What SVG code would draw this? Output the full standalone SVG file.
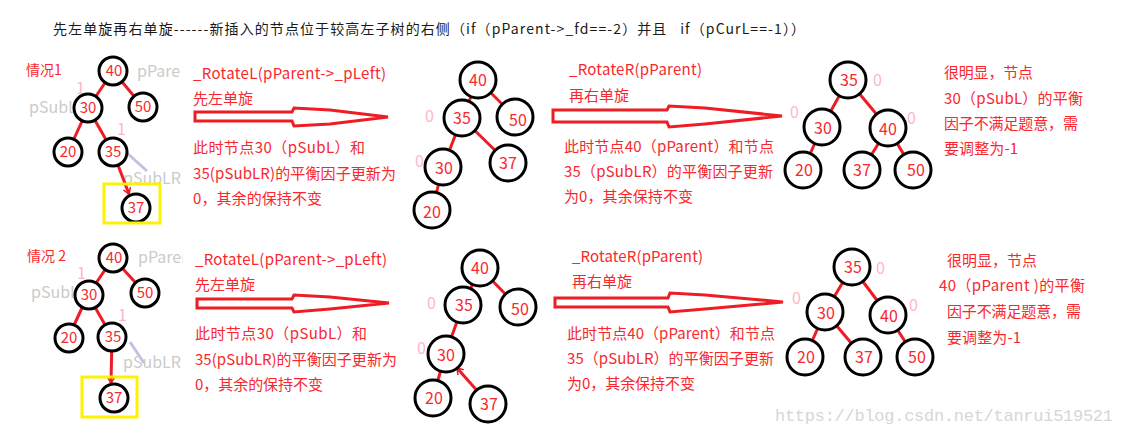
<svg xmlns="http://www.w3.org/2000/svg" width="1126" height="435" viewBox="0 0 1126 435">
<style>
text{font-family:"Noto Sans CJK SC","Liberation Sans",sans-serif}
.title{font-size:14px;fill:#1a1a1a;white-space:pre}
.red{font-size:15px;fill:#f8282e}
.lbl{font-size:14px;fill:#f8282e}
.gray{font-size:16px;fill:#cbcbcb}
.pink{font-size:16px;fill:#ffb6c6}
.n1{font-size:15px;fill:#f8282e;text-anchor:middle}
.n2{font-size:16px;fill:#f8282e;text-anchor:middle}
.c1{fill:#fff;stroke:#000;stroke-width:3}
.e{stroke:#ee1c25;stroke-width:3;fill:none}
.lav{stroke:#c4c0e4;stroke-width:3;fill:none}
.arr{fill:#fff;stroke:#ee1c25;stroke-width:3;stroke-linejoin:miter}
.box{fill:none;stroke:#fff200;stroke-width:3}
.wm{font-family:"Liberation Mono",monospace;font-size:17px;fill:#d6d6d6}
</style>
<defs>
<marker id="ah" markerWidth="8" markerHeight="8" refX="6" refY="4" orient="auto" markerUnits="userSpaceOnUse">
<path d="M0,0 L6,4 L0,8" fill="none" stroke="#ee1c25" stroke-width="1.5"/>
</marker>
<clipPath id="clipP1"><rect x="130" y="55" width="51" height="30"/></clipPath>
<clipPath id="clipP2"><rect x="130" y="242" width="53" height="30"/></clipPath>
</defs>
<rect width="1126" height="435" fill="#fff"/>

<text class="title" x="53" y="34" textLength="752" xml:space="preserve">先左单旋再右单旋------新插入的节点位于较高左子树的右侧（if（pParent-&gt;_fd==-2）并且   if（pCurL==-1））</text>

<!-- Case 1 annotations -->
<text class="lbl" x="26" y="75">情况1</text>
<text class="gray" x="137" y="77" clip-path="url(#clipP1)">pParent</text>
<text class="gray" x="29" y="113">pSubL</text>
<text class="gray" x="123" y="184">pSubLR</text>
<text class="pink" x="76" y="94">1</text>
<text class="pink" x="117" y="135">1</text>

<g id="connectors">
<!-- case1 tree1 -->
<line class="lav" x1="127" y1="153" x2="147" y2="171"/>
<line class="e" x1="113" y1="71" x2="88" y2="108"/>
<line class="e" x1="113" y1="71" x2="143" y2="107"/>
<line class="e" x1="88" y1="108" x2="68" y2="152"/>
<line class="e" x1="88" y1="108" x2="113" y2="152"/>
<line class="e" x1="113" y1="152" x2="129" y2="194" marker-end="url(#ah)"/>
<!-- case1 tree2 -->
<line class="e" x1="478" y1="80" x2="462" y2="118"/>
<line class="e" x1="478" y1="80" x2="515" y2="117"/>
<line class="e" x1="462" y1="118" x2="443" y2="167"/>
<line class="e" x1="462" y1="118" x2="508" y2="163"/>
<line class="e" x1="443" y1="167" x2="432" y2="210"/>
<!-- case1 tree3 -->
<line class="e" x1="848" y1="80" x2="822" y2="127"/>
<line class="e" x1="848" y1="80" x2="888" y2="128"/>
<line class="e" x1="822" y1="127" x2="803" y2="170"/>
<line class="e" x1="888" y1="128" x2="862" y2="170"/>
<line class="e" x1="888" y1="128" x2="913" y2="170"/>
<!-- case2 tree1 -->
<line class="lav" x1="130" y1="342" x2="144" y2="363"/>
<line class="e" x1="113" y1="258" x2="88" y2="295"/>
<line class="e" x1="113" y1="258" x2="145" y2="293"/>
<line class="e" x1="88" y1="295" x2="68" y2="338"/>
<line class="e" x1="88" y1="295" x2="112" y2="337"/>
<line class="e" x1="112" y1="337" x2="111" y2="383" marker-end="url(#ah)"/>
<!-- case2 tree2 -->
<line class="e" x1="480" y1="268" x2="463" y2="305"/>
<line class="e" x1="480" y1="268" x2="518" y2="307"/>
<line class="e" x1="463" y1="305" x2="445" y2="355"/>
<line class="e" x1="445" y1="355" x2="433" y2="398"/>
<line class="e" x1="488" y1="403" x2="457" y2="368" marker-end="url(#ah)"/>
<!-- case2 tree3 -->
<line class="e" x1="852" y1="267" x2="825" y2="312"/>
<line class="e" x1="852" y1="267" x2="888" y2="315"/>
<line class="e" x1="825" y1="312" x2="805" y2="357"/>
<line class="e" x1="825" y1="312" x2="863" y2="357"/>
<line class="e" x1="888" y1="315" x2="915" y2="357"/>
<!-- big hollow arrows -->
<polygon class="arr" points="195,112 292,112 294,108 330,110 388,117 330,124 294,126 292,121 195,121"/>
<polygon class="arr" points="553,110 667,110 669,106 705,108 782,116 705,124 669,127 667,122 553,122"/>
<polygon class="arr" points="197,299 292,299 294,295 330,297 389,303 330,309 294,312 292,308 197,308"/>
<polygon class="arr" points="555,298 668,298 670,293 705,295 783,302 705,309 670,312 668,307 555,307"/>
</g>

<!-- Case 1 tree 1 nodes -->
<g id="c1t1-40"><circle class="c1" cx="113" cy="71" r="14"/><text class="n1" x="114" y="76">40</text></g>
<g id="c1t1-30"><circle class="c1" cx="88" cy="108" r="14"/><text class="n1" x="88" y="113">30</text></g>
<g id="c1t1-50"><circle class="c1" cx="143" cy="107" r="14"/><text class="n1" x="143" y="112">50</text></g>
<g id="c1t1-20"><circle class="c1" cx="68" cy="152" r="14"/><text class="n1" x="68" y="157">20</text></g>
<g id="c1t1-35"><circle class="c1" cx="113" cy="152" r="14"/><text class="n1" x="113" y="157">35</text></g>
<g id="c1t1-37"><circle class="c1" cx="136" cy="208" r="14"/><text class="n1" x="136" y="213">37</text></g>
<rect id="c1-box" class="box" x="104" y="184" width="56" height="39"/>

<!-- Case 1 texts -->
<text class="red" x="193" y="79" textLength="193">_RotateL(pParent-&gt;_pLeft)</text>
<text class="red" x="193" y="104">先左单旋</text>
<text class="red" x="193" y="153" textLength="172">此时节点30（pSubL）和</text>
<text class="red" x="193" y="179" textLength="203">35(pSubLR)的平衡因子更新为</text>
<text class="red" x="193" y="204" textLength="129">0，其余的保持不变</text>

<!-- Case 1 tree 2 -->
<text class="pink" x="425" y="122">0</text>
<text class="pink" x="415" y="167">0</text>
<g id="c1t2-40"><circle class="c1" cx="478" cy="80" r="18"/><text class="n2" x="478" y="86">40</text></g>
<g id="c1t2-35"><circle class="c1" cx="462" cy="118" r="18"/><text class="n2" x="462" y="124">35</text></g>
<g id="c1t2-50"><circle class="c1" cx="515" cy="117" r="18"/><text class="n2" x="518" y="126">50</text></g>
<g id="c1t2-30"><circle class="c1" cx="443" cy="167" r="18"/><text class="n2" x="444" y="174">30</text></g>
<g id="c1t2-37"><circle class="c1" cx="508" cy="163" r="18"/><text class="n2" x="508" y="169">37</text></g>
<g id="c1t2-20"><circle class="c1" cx="432" cy="210" r="18"/><text class="n2" x="432" y="218">20</text></g>

<text class="red" x="569" y="75" textLength="133">_RotateR(pParent)</text>
<text class="red" x="569" y="101">再右单旋</text>
<text class="red" x="564" y="152" textLength="210">此时节点40（pParent）和节点</text>
<text class="red" x="564" y="177" textLength="209">35（pSubLR）的平衡因子更新</text>
<text class="red" x="564" y="202" textLength="129">为0，其余保持不变</text>

<!-- Case 1 tree 3 -->
<text class="pink" x="873" y="86">0</text>
<text class="pink" x="790" y="118">0</text>
<text class="pink" x="907" y="124">0</text>
<g id="c1t3-35"><circle class="c1" cx="848" cy="80" r="18"/><text class="n2" x="849" y="86">35</text></g>
<g id="c1t3-30"><circle class="c1" cx="822" cy="127" r="18"/><text class="n2" x="823" y="134">30</text></g>
<g id="c1t3-40"><circle class="c1" cx="888" cy="128" r="18"/><text class="n2" x="888" y="135">40</text></g>
<g id="c1t3-20"><circle class="c1" cx="803" cy="170" r="18"/><text class="n2" x="804" y="176">20</text></g>
<g id="c1t3-37"><circle class="c1" cx="862" cy="170" r="18"/><text class="n2" x="862" y="176">37</text></g>
<g id="c1t3-50"><circle class="c1" cx="913" cy="170" r="18"/><text class="n2" x="916" y="176">50</text></g>

<text class="red" x="944" y="78" textLength="89">很明显，节点</text>
<text class="red" x="944" y="104" textLength="139">30（pSubL）的平衡</text>
<text class="red" x="944" y="129" textLength="134">因子不满足题意，需</text>
<text class="red" x="944" y="154" textLength="74">要调整为-1</text>

<!-- Case 2 annotations -->
<text class="lbl" x="27" y="261">情况 2</text>
<text class="gray" x="138" y="263" clip-path="url(#clipP2)">pParent</text>
<text class="gray" x="31" y="298">pSubL</text>
<text class="gray" x="123" y="368">pSubLR</text>
<text class="pink" x="77" y="279">1</text>
<text class="pink" x="118" y="321">1</text>

<g id="c2t1-40"><circle class="c1" cx="113" cy="258" r="14"/><text class="n1" x="114" y="263">40</text></g>
<g id="c2t1-30"><circle class="c1" cx="89" cy="295" r="14"/><text class="n1" x="89" y="300">30</text></g>
<g id="c2t1-50"><circle class="c1" cx="145" cy="293" r="14"/><text class="n1" x="145" y="298">50</text></g>
<g id="c2t1-20"><circle class="c1" cx="69" cy="338" r="14"/><text class="n1" x="69" y="343">20</text></g>
<g id="c2t1-35"><circle class="c1" cx="112" cy="337" r="14"/><text class="n1" x="113" y="342">35</text></g>
<g id="c2t1-37"><circle class="c1" cx="114" cy="398" r="14"/><text class="n1" x="114" y="403">37</text></g>
<rect id="c2-box" class="box" x="82" y="377" width="55" height="40"/>

<text class="red" x="195" y="265" textLength="192">_RotateL(pParent-&gt;_pLeft)</text>
<text class="red" x="195" y="290">先左单旋</text>
<text class="red" x="195" y="339" textLength="172">此时节点30（pSubL）和</text>
<text class="red" x="195" y="365" textLength="202">35(pSubLR)的平衡因子更新为</text>
<text class="red" x="195" y="390" textLength="128">0，其余的保持不变</text>

<!-- Case 2 tree 2 -->
<text class="pink" x="427" y="309">0</text>
<text class="pink" x="417" y="354">0</text>
<g id="c2t2-40"><circle class="c1" cx="480" cy="268" r="18"/><text class="n2" x="480" y="274">40</text></g>
<g id="c2t2-35"><circle class="c1" cx="463" cy="305" r="18"/><text class="n2" x="464" y="311">35</text></g>
<g id="c2t2-50"><circle class="c1" cx="518" cy="307" r="18"/><text class="n2" x="520" y="315">50</text></g>
<g id="c2t2-30"><circle class="c1" cx="446" cy="354" r="18"/><text class="n2" x="446" y="361">30</text></g>
<g id="c2t2-20"><circle class="c1" cx="433" cy="398" r="18"/><text class="n2" x="434" y="404">20</text></g>
<g id="c2t2-37"><circle class="c1" cx="488" cy="404" r="18"/><text class="n2" x="489" y="410">37</text></g>

<text class="red" x="572" y="262" textLength="131">_RotateR(pParent)</text>
<text class="red" x="572" y="287">再右单旋</text>
<text class="red" x="567" y="339" textLength="208">此时节点40（pParent）和节点</text>
<text class="red" x="567" y="364" textLength="207">35（pSubLR）的平衡因子更新</text>
<text class="red" x="567" y="389" textLength="128">为0，其余保持不变</text>

<!-- Case 2 tree 3 -->
<text class="pink" x="876" y="274">0</text>
<text class="pink" x="792" y="304">0</text>
<text class="pink" x="909" y="311">0</text>
<g id="c2t3-35"><circle class="c1" cx="852" cy="267" r="18"/><text class="n2" x="853" y="273">35</text></g>
<g id="c2t3-30"><circle class="c1" cx="825" cy="312" r="18"/><text class="n2" x="826" y="319">30</text></g>
<g id="c2t3-40"><circle class="c1" cx="888" cy="315" r="18"/><text class="n2" x="889" y="322">40</text></g>
<g id="c2t3-20"><circle class="c1" cx="805" cy="357" r="18"/><text class="n2" x="806" y="363">20</text></g>
<g id="c2t3-37"><circle class="c1" cx="863" cy="357" r="18"/><text class="n2" x="864" y="363">37</text></g>
<g id="c2t3-50"><circle class="c1" cx="915" cy="357" r="18"/><text class="n2" x="917" y="363">50</text></g>

<text class="red" x="947" y="266" textLength="90">很明显，节点</text>
<text class="red" x="939" y="291" textLength="146">40（pParent )的平衡</text>
<text class="red" x="947" y="317" textLength="134">因子不满足题意，需</text>
<text class="red" x="947" y="343" textLength="74">要调整为-1</text>

<text class="wm" x="775" y="421" textLength="338">https://blog.csdn.net/tanrui519521</text>
</svg>
